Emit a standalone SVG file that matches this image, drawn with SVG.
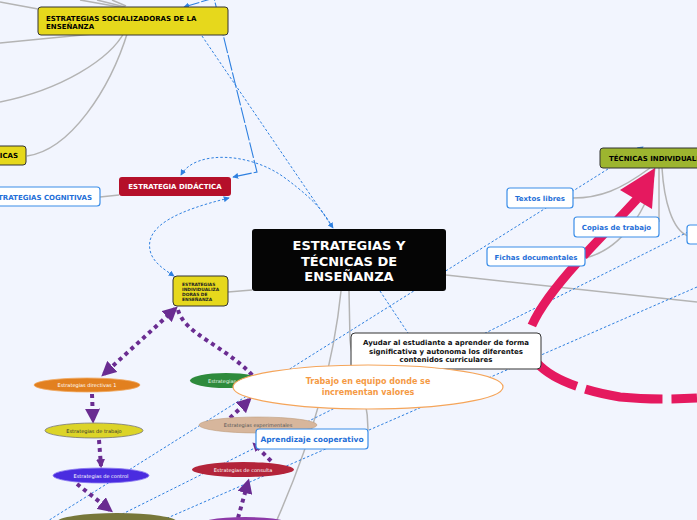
<svg xmlns="http://www.w3.org/2000/svg" width="697" height="520" viewBox="0 0 697 520">
<style>
.grey{fill:none;stroke:#b4b4b4;stroke-width:1.5}
.blue{fill:none;stroke:#2f80e0;stroke-width:1;stroke-dasharray:2.5 2}
.bluel{fill:none;stroke:#2f80e0;stroke-width:1.1;stroke-dasharray:16 2}
.purp{fill:none;stroke:#6a2c91;stroke-width:4;stroke-dasharray:4 4}
.pink{fill:none;stroke:#e5195f;stroke-width:9;stroke-dasharray:78 9}
.t{font-family:"DejaVu Sans","Verdana",sans-serif;font-weight:bold}
.r{font-family:"DejaVu Sans","Verdana",sans-serif}
.ybox{fill:#e6d81c;stroke:#333;stroke-width:1}
.wbox{fill:#fff;stroke:#3b8ee8;stroke-width:1.2}
.bt{fill:#1f6fd8;font-size:7px}
.el{font-size:5px;text-anchor:middle}
</style>
<defs>
<marker id="ab" viewBox="0 0 8 8" refX="7" refY="4" markerWidth="6" markerHeight="6" markerUnits="userSpaceOnUse" orient="auto-start-reverse"><path d="M0,0 L8,4 L0,8 z" fill="#2f80e0"/></marker>
<marker id="ap" viewBox="0 0 12 12" refX="9" refY="6" markerWidth="15" markerHeight="15" markerUnits="userSpaceOnUse" orient="auto-start-reverse"><path d="M0,0 L12,6 L0,12 z" fill="#6a2c91"/></marker>
<marker id="aps" viewBox="0 0 12 12" refX="9" refY="6" markerWidth="9" markerHeight="9" markerUnits="userSpaceOnUse" orient="auto-start-reverse"><path d="M0,0 L12,6 L0,12 z" fill="#6a2c91"/></marker>
</defs>
<rect width="697" height="520" fill="#f2f5fe"/>
<g id="connectors">
<path class="grey" d="M0,2 L38,9"/>
<path class="grey" d="M80,0 L125,8"/>
<path class="grey" d="M97,0 L125,7"/>
<path class="grey" d="M112,0 L126,6"/>
<path class="grey" d="M0,43 C40,39 90,34 125,31"/>
<path class="grey" d="M0,102 C60,90 110,60 125,31"/>
<path class="grey" d="M27,156 C70,150 110,90 128,31"/>
<path class="grey" d="M100,197 L119,195"/>
<path class="grey" d="M228,292 L252,290"/>
<path class="grey" d="M341,291 Q330,400 276,522"/>
<path class="grey" d="M349,291 L350,340 C352,370 368,390 368,430"/>
<path class="grey" d="M446,275 L697,302"/>
<path class="grey" d="M650,168 C620,190 600,198 573,198"/>
<path class="grey" d="M655,168 C650,210 620,250 585,258"/>
<path class="grey" d="M659,168 L659,222"/>
<path class="grey" d="M662,168 C664,200 672,230 688,236"/>
<path class="blue" d="M0,551 L643,147" marker-end="url(#ab)"/>
<path class="blue" d="M688,232 L0,575"/>
<path class="blue" d="M697,287 L0,591"/>
<path class="blue" d="M202,36 L333,228" marker-end="url(#ab)"/>
<path class="bluel" d="M184,7 L214,-2 L257,172 L233,177" marker-start="url(#ab)" marker-end="url(#ab)"/>
<path class="blue" d="M181,175 C195,150 250,152 285,178 S325,215 333,228" marker-start="url(#ab)"/>
<path class="blue" d="M229,198 C180,210 145,225 150,250 C152,262 165,270 174,276" marker-start="url(#ab)" marker-end="url(#ab)"/>
<path class="blue" d="M380,291 L408,333"/>
<path class="pink" d="M637,199 C600,240 545,290 530,330 C520,360 550,385 620,397 C650,400 680,399 697,398"/>
<polygon points="655,168 620,190 652,209" fill="#e5195f"/>
<path class="purp" d="M175,309 L104,374" marker-start="url(#ap)" marker-end="url(#ap)"/>
<path class="purp" d="M178,310 C185,335 225,345 255,378"/>
<path class="purp" d="M92,394 L93,420" marker-end="url(#ap)"/>
<path class="purp" d="M99,440 L101,466" marker-end="url(#aps)"/>
<path class="purp" d="M77,484 L110,510" marker-end="url(#ap)"/>
<path class="purp" d="M230,418 L249,400" marker-end="url(#ap)"/>
<path class="purp" d="M271,461 L254,444" marker-end="url(#aps)"/>
<path class="purp" d="M238,518 L248,482" marker-end="url(#ap)"/>
</g>
<g id="n-socializadoras"><rect class="ybox" x="38" y="7" width="190" height="28" rx="3"/><text class="t" font-size="7" x="46" y="21">ESTRATEGIAS SOCIALIZADORAS DE LA</text><text class="t" font-size="7" x="46" y="29">ENSEÑANZA</text></g>
<g id="n-icas"><rect class="ybox" x="-10" y="146" width="36" height="19" rx="3"/><text class="t" font-size="7" x="18" y="158" text-anchor="end">ICAS</text></g>
<g id="n-cognitivas"><rect class="wbox" x="-10" y="187" width="110" height="19" rx="3"/><text class="t bt" x="92" y="199.5" text-anchor="end">ESTRATEGIAS COGNITIVAS</text></g>
<g id="n-didactica"><rect x="119" y="177" width="112" height="19" rx="3" fill="#b5102a"/><text class="t" font-size="7" fill="#fff" x="175" y="189" text-anchor="middle">ESTRATEGIA DIDÁCTICA</text></g>
<g id="n-central"><rect x="252" y="229" width="194" height="62" rx="3" fill="#050505"/><text class="t" font-size="13" fill="#fff" text-anchor="middle"><tspan x="349" y="250">ESTRATEGIAS Y</tspan><tspan x="349" y="266">TÉCNICAS DE</tspan><tspan x="349" y="281">ENSEÑANZA</tspan></text></g>
<g id="n-individualiza"><rect class="ybox" x="173" y="276" width="55" height="30" rx="4"/><text class="t" font-size="4.4" fill="#222"><tspan x="182" y="286">ESTRATEGIAS</tspan><tspan x="182" y="291">INDIVIDUALIZA</tspan><tspan x="182" y="296">DORAS DE</tspan><tspan x="182" y="301">ENSEÑANZA</tspan></text></g>
<g id="n-tecnicas"><rect x="600" y="148" width="110" height="20" rx="3" fill="#9db52f" stroke="#333"/><text class="t" font-size="7" x="609" y="161">TÉCNICAS INDIVIDUALES</text></g>
<g id="n-textos"><rect class="wbox" x="507" y="188" width="66" height="20" rx="3"/><text class="t bt" x="540" y="201" text-anchor="middle">Textos libres</text></g>
<g id="n-copias"><rect class="wbox" x="574" y="217" width="85" height="20" rx="3"/><text class="t bt" x="616.5" y="230" text-anchor="middle">Copias de trabajo</text></g>
<g id="n-fichas"><rect class="wbox" x="487" y="247" width="98" height="19" rx="3"/><text class="t bt" x="536" y="259.5" text-anchor="middle">Fichas documentales</text></g>
<g id="n-right"><rect class="wbox" x="687" y="225" width="30" height="19" rx="3"/></g>
<g id="n-ayudar"><rect x="351" y="333" width="190" height="36" rx="4" fill="#fff" stroke="#333" stroke-width="1"/><text class="t" font-size="7" fill="#111" text-anchor="middle"><tspan x="446" y="345">Ayudar al estudiante a aprender de forma</tspan><tspan x="446" y="354">significativa y autonoma los diferentes</tspan><tspan x="446" y="362">contenidos curriculares</tspan></text></g>
<g id="n-directivas"><ellipse cx="87" cy="385" rx="53" ry="7" fill="#e2801f" stroke="#f0a860" stroke-width="0.8"/><text class="r el" fill="#fff" x="87" y="387">Estrategias directivas 1</text></g>
<g id="n-trabajo"><ellipse cx="94" cy="430.5" rx="49" ry="7.5" fill="#dcd428" stroke="#777" stroke-width="0.8"/><text class="r el" fill="#333" x="94" y="432.5">Estrategias de trabajo</text></g>
<g id="n-control"><ellipse cx="101" cy="475.5" rx="48" ry="7.5" fill="#4a2ce0" stroke="#8a78f0" stroke-width="0.8"/><text class="r el" fill="#fff" x="101" y="477.5">Estrategias de control</text></g>
<g id="n-olive"><ellipse cx="117" cy="522" rx="60" ry="9" fill="#77773a"/></g>
<g id="n-green"><ellipse cx="226" cy="380.5" rx="36" ry="7.5" fill="#2e8a3c"/><text class="r" font-size="5" fill="#e8f5e8" x="208" y="382.5">Estrategias</text></g>
<g id="n-experimentales"><ellipse cx="258" cy="425" rx="59" ry="8" fill="#d7b69c" stroke="#c0a080" stroke-width="0.6"/><text class="r el" fill="#555" x="258" y="427">Estrategias experimentales</text></g>
<g id="n-consulta"><ellipse cx="243" cy="469.5" rx="51" ry="7.5" fill="#b3243a"/><text class="r el" fill="#fff" x="243" y="471.5">Estrategias de consulta</text></g>
<g id="n-purple"><ellipse cx="245" cy="526" rx="50" ry="9" fill="#8d3aa8"/></g>
<g id="n-equipo"><ellipse cx="368" cy="387" rx="135" ry="22" fill="#fff" stroke="#f5a55a" stroke-width="1.2"/><text class="t" font-size="8" fill="#f59a45" text-anchor="middle"><tspan x="368" y="384">Trabajo en equipo donde se</tspan><tspan x="368" y="395">incrementan valores</tspan></text></g>
<g id="n-aprendizaje"><rect class="wbox" x="256" y="429" width="112" height="20" rx="3"/><text class="t" font-size="7.5" fill="#1f6fd8" x="312" y="442" text-anchor="middle">Aprendizaje cooperativo</text></g>
</svg>
